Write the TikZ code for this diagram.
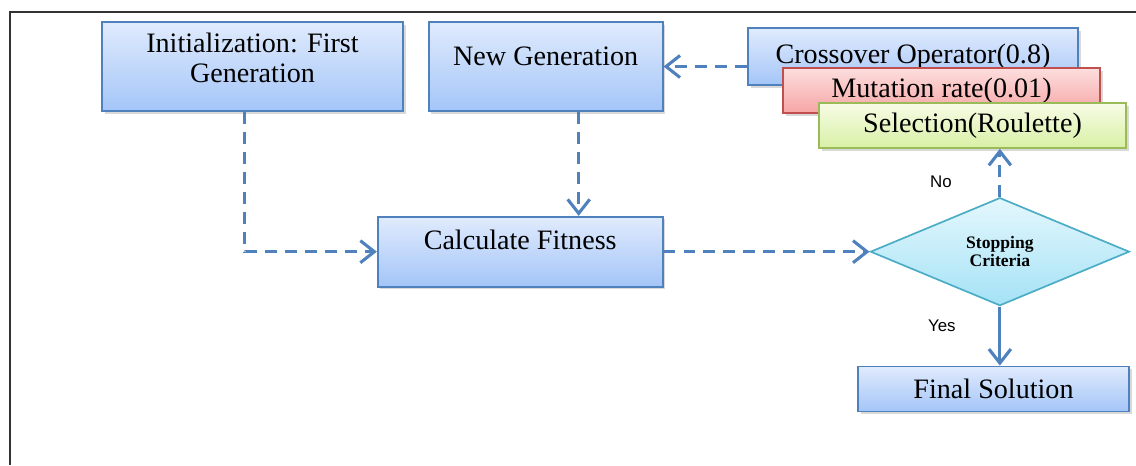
\documentclass[tikz,border=0pt]{standalone}
\usepackage{fontspec}
\setmainfont{Liberation Serif}
\newfontfamily\labelfont{Liberation Sans}
\usetikzlibrary{arrows.meta,positioning,shapes.geometric,shadows}
\definecolor{lineblue}{RGB}{79,129,189}
\definecolor{bluetop}{RGB}{224,235,253}
\definecolor{bluebot}{RGB}{164,197,248}
\definecolor{linered}{RGB}{192,80,77}
\definecolor{redtop}{RGB}{253,222,222}
\definecolor{redbot}{RGB}{246,165,165}
\definecolor{linegreen}{RGB}{155,187,89}
\definecolor{greentop}{RGB}{247,252,230}
\definecolor{greenbot}{RGB}{216,240,165}
\definecolor{linecyan}{RGB}{75,172,198}
\definecolor{cyantop}{RGB}{228,247,253}
\definecolor{cyanbot}{RGB}{165,226,246}
\newcommand{\lowpad}[1]{\rule[-#1]{0pt}{0pt}}
\tikzset{
  gabox/.style={draw=lineblue, line width=1.2pt, top color=bluetop, bottom color=bluebot, align=center, inner sep=0pt, font=\fontsize{20}{21.5}\selectfont, drop shadow={shadow xshift=0.7mm, shadow yshift=-0.7mm, opacity=0.3}},
  redbox/.style={gabox, draw=linered, top color=redtop, bottom color=redbot},
  greenbox/.style={gabox, draw=linegreen, top color=greentop, bottom color=greenbot},
  decide/.style={diamond, draw=linecyan, line width=1.2pt, top color=cyantop, bottom color=cyanbot, align=center, inner sep=0pt, font=\fontsize{12.5}{13}\selectfont\bfseries},
  flow/.style={-{Straight Barb[length=3.5mm, width=5.5mm]}, line width=2.2pt, draw=lineblue, dash pattern=on 8.5pt off 5.7pt},
  solidflow/.style={flow, solid},
  answer/.style={font=\labelfont\fontsize{12}{14}\selectfont}
}
\begin{document}
\begin{tikzpicture}[node distance=0.6cm]
  \useasboundingbox (0,0) rectangle (28.4,-11.625);
  \draw[black!80, line width=1.4pt] (28.4,-0.3) -- (0.25,-0.3) -- (0.25,-11.625);

  \node[gabox, minimum width=7.525cm, minimum height=2.225cm] (init) at (6.3125,-1.6625) {Initialization: First\\Generation\lowpad{0.42cm}};
  \node[gabox, minimum width=5.85cm, minimum height=2.225cm, right=of init] (gen) {New Generation\lowpad{0.53cm}};
  \node[gabox, minimum width=7.125cm, minimum height=1.75cm, below=2.6cm of gen.south east, anchor=north east] (calc) {Calculate Fitness\lowpad{0.61cm}};
  \node[decide, minimum width=6.475cm, minimum height=2.7cm, right=5.15cm of calc] (crit) {Stopping\\Criteria};
  \node[gabox, minimum width=6.775cm, minimum height=1.125cm, below=1.475cm of crit, xshift=-0.16cm] (final) {Final Solution};

  \node[gabox, minimum width=8.25cm, minimum height=1.425cm] (cross) at (22.825,-1.4125) {Crossover Operator(0.8)};
  \node[redbox, minimum width=7.925cm, minimum height=1.125cm] (mut) at (23.5375,-2.2625) {Mutation rate(0.01)};
  \node[greenbox, minimum width=7.675cm, minimum height=1.125cm] (sel) at (24.3125,-3.1375) {Selection(Roulette)};

  \draw[flow] ([xshift=-0.19cm]init.south) |- (calc.west);
  \draw[flow] ([xshift=0.825cm]gen.south) -- ([xshift=0.825cm]gen.south |- calc.north);
  \draw[flow] (calc.east) -- (crit.west);
  \draw[flow] (crit.north) -- (crit.north |- sel.south) node[answer, pos=0.32, left=1.05cm] (no) {No};
  \draw[solidflow] (crit.south) -- (crit.south |- final.north) node[answer, pos=0.32, left=0.95cm] (yes) {Yes};
  \draw[flow] (cross.west |- gen.east) -- (gen.east);
\end{tikzpicture}
\end{document}
